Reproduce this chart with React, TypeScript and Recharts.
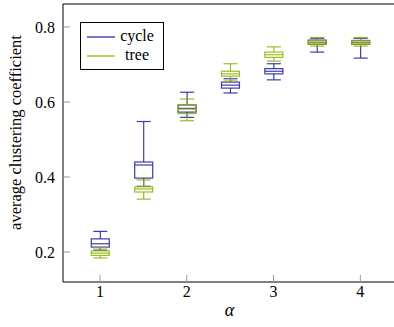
import { ComposedChart, Bar, XAxis, YAxis, Legend, Label } from "recharts"

const alphas = [1, 1.5, 2, 2.5, 3, 3.5, 4]

// cycle: min, q1, median, q3, max
const cycleMin = [0.205, 0.375, 0.559, 0.624, 0.659, 0.733, 0.717]
const cycleQ1 = [0.213, 0.397, 0.573, 0.637, 0.675, 0.754, 0.754]
const cycleMed = [0.222, 0.432, 0.583, 0.645, 0.682, 0.759, 0.759]
const cycleQ3 = [0.235, 0.44, 0.592, 0.653, 0.689, 0.765, 0.764]
const cycleMax = [0.255, 0.548, 0.626, 0.662, 0.702, 0.77, 0.77]

// tree
const treeMin = [0.184, 0.341, 0.55, 0.656, 0.709, 0.749, 0.749]
const treeQ1 = [0.191, 0.36, 0.569, 0.669, 0.719, 0.754, 0.754]
const treeMed = [0.197, 0.368, 0.581, 0.675, 0.726, 0.759, 0.759]
const treeQ3 = [0.203, 0.374, 0.593, 0.682, 0.733, 0.764, 0.764]
const treeMax = [0.211, 0.392, 0.608, 0.702, 0.747, 0.772, 0.772]

const xTicks = [1, 2, 3, 4]
const yTicks = [0.2, 0.4, 0.6, 0.8]

const BLUE = "#1c1c9c"
const GREEN = "#8db200"
const FONT = "'Times New Roman', 'Liberation Serif', Times, serif"

const data = alphas.map((a, i) => ({
  alpha: a,
  cycle: [cycleMin[i], cycleQ1[i], cycleMed[i], cycleQ3[i], cycleMax[i]],
  tree: [treeMin[i], treeQ1[i], treeMed[i], treeQ3[i], treeMax[i]],
}))

const makeBox = (key: "cycle" | "tree", color: string) => (props: any) => {
  const { x, y, width, height, payload } = props
  const [lo, q1, med, q3, hi] = payload[key]
  const top = Math.min(y, y + height)
  const h = Math.abs(height)
  const py = (v: number) => top + (h * (hi - v)) / (hi - lo)
  const cx = x + width / 2
  const cap = 7
  return (
    <g stroke={color} strokeOpacity={0.85} strokeWidth={1.2} fill="none">
      <line x1={cx} x2={cx} y1={py(hi)} y2={py(q3)} />
      <line x1={cx} x2={cx} y1={py(q1)} y2={py(lo)} />
      <line x1={cx - cap} x2={cx + cap} y1={py(hi)} y2={py(hi)} />
      <line x1={cx - cap} x2={cx + cap} y1={py(lo)} y2={py(lo)} />
      <rect x={x} y={py(q3)} width={width} height={py(q1) - py(q3)} />
      <line x1={x} x2={x + width} y1={py(med)} y2={py(med)} />
    </g>
  )
}

const renderLegend = (props: any) => {
  const items = props.payload || []
  return (
    <div
      style={{
        position: "relative",
        width: 84,
        height: 48,
        border: "1px solid #000",
        boxSizing: "border-box",
        background: "#fff",
        fontFamily: FONT,
        fontSize: 16,
      }}
    >
      {items.map((it: any, i: number) => (
        <div key={it.value} style={{ position: "absolute", left: 0, top: 4 + i * 19, width: 82, height: 19 }}>
          <svg width={40} height={19} style={{ position: "absolute", left: 0, top: 0 }}>
            <line x1={6} x2={34} y1={10} y2={10} stroke={it.color} strokeWidth={1.2} />
          </svg>
          <span
            style={{
              position: "absolute",
              left: 36,
              width: 40,
              textAlign: "center",
              top: -1,
              lineHeight: "19px",
              color: "#000",
            }}
          >
            {it.value}
          </span>
        </div>
      ))}
    </div>
  )
}

export default function App() {
  const tickStyle = { fontSize: 16, fill: "#000", fontFamily: FONT }
  return (
    <div style={{ position: "absolute", left: 0, top: 0, fontFamily: FONT }}>
      <ComposedChart
        width={398}
        height={327}
        data={data}
        margin={{ top: 3, right: 1, left: 62, bottom: 44 }}
        barSize={18}
        barGap={-18}
        style={{ fontFamily: FONT }}
      >
        <XAxis
          xAxisId="b"
          dataKey="alpha"
          type="number"
          domain={[0.5736, 4.411]}
          ticks={xTicks}
          allowDataOverflow
          height={1}
          tickSize={-7}
          tickMargin={11}
          tick={tickStyle}
          tickLine={{ stroke: "#999" }}
          axisLine={{ stroke: "#000" }}
        >
          <Label
            content={({ viewBox }: any) => (
              <text
                x={viewBox.x + viewBox.width / 2}
                y={viewBox.y + 34}
                textAnchor="middle"
                fontFamily={FONT}
                fontStyle="italic"
                fontSize={18}
                fill="#000"
              >
                α
              </text>
            )}
          />
        </XAxis>
        <XAxis
          xAxisId="t"
          orientation="top"
          dataKey="alpha"
          type="number"
          domain={[0.5736, 4.411]}
          ticks={xTicks}
          allowDataOverflow
          height={1}
          tickSize={-7}
          tick={false}
          tickLine={{ stroke: "#999" }}
          axisLine={{ stroke: "#000" }}
        />
        <YAxis
          yAxisId="l"
          type="number"
          domain={[0.12, 0.8613]}
          ticks={yTicks}
          allowDataOverflow
          width={1}
          tickSize={-7}
          tickMargin={15}
          tick={tickStyle}
          tickLine={{ stroke: "#999" }}
          axisLine={{ stroke: "#000" }}
        >
          <Label
            content={({ viewBox }: any) => {
              const lx = viewBox.x + viewBox.width - 42
              const ly = viewBox.y + viewBox.height / 2 - 10.5
              return (
                <text
                  x={lx}
                  y={ly}
                  transform={`rotate(-90 ${lx} ${ly})`}
                  textAnchor="middle"
                  fontFamily={FONT}
                  fontSize={16.5}
                  fill="#000"
                >
                  average clustering coefficient
                </text>
              )
            }}
          />
        </YAxis>
        <YAxis
          yAxisId="r"
          orientation="right"
          type="number"
          domain={[0.12, 0.8613]}
          ticks={yTicks}
          allowDataOverflow
          width={1}
          tickSize={-7}
          tick={false}
          tickLine={{ stroke: "#999" }}
          axisLine={{ stroke: "#000" }}
        />
        <Bar
          xAxisId="b"
          yAxisId="l"
          name="cycle"
          dataKey={(d: any) => [d.cycle[0], d.cycle[4]]}
          fill={BLUE}
          shape={makeBox("cycle", BLUE)}
          isAnimationActive={false}
        />
        <Bar
          xAxisId="b"
          yAxisId="l"
          name="tree"
          dataKey={(d: any) => [d.tree[0], d.tree[4]]}
          fill={GREEN}
          shape={makeBox("tree", GREEN)}
          isAnimationActive={false}
        />
        <Legend
          layout="vertical"
          align="center"
          verticalAlign="middle"
          content={renderLegend}
          wrapperStyle={{ left: 80, top: 22, width: 84, height: 48 }}
        />
      </ComposedChart>
    </div>
  )
}
